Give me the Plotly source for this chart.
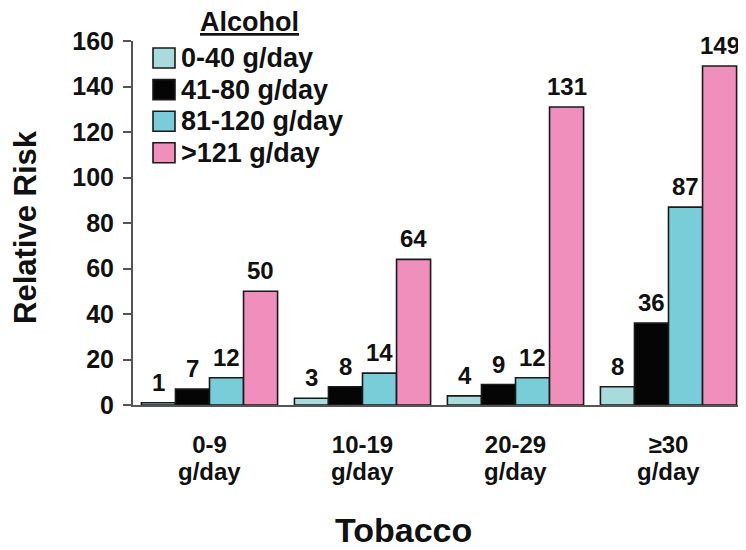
import plotly.graph_objects as go

categories = ["0-9", "10-19", "20-29", "≥30"]
unit_line = "g/day"
series_names = ["0-40 g/day", "41-80 g/day", "81-120 g/day", ">121 g/day"]
series_values = [
    [1, 3, 4, 8],
    [7, 8, 9, 36],
    [12, 14, 12, 87],
    [50, 64, 131, 149],
]
colors = ["#a8dcdc", "#050505", "#79cdd8", "#f08fbb"]
y_ticks = [0, 20, 40, 60, 80, 100, 120, 140, 160]

FONT = "Liberation Sans, Arial, sans-serif"
OFF = 8  # page body margin
W, H = 746 - OFF, 550 - OFF
L, R, T, B = 133 - OFF, 1, 41 - OFF, 145
PW, PH = W - L - R, H - T - B


def px_x(p):
    return (p - OFF - L) / PW


def px_y(p):
    return (H - B - (p - OFF)) / PH


fig = go.Figure()
for name, vals, col in zip(series_names, series_values, colors):
    fig.add_trace(go.Bar(
        x=categories, y=vals, name=name, marker_color=col,
        marker_line=dict(color="#1a1a1a", width=1.6), showlegend=False,
    ))

annotations = []
bar_px = 34
n = len(series_names)
for i, vals in enumerate(series_values):
    for c, v in zip(categories, vals):
        annotations.append(dict(
            x=c, y=v, xref="x", yref="y", text=str(v), showarrow=False,
            xshift=(i - (n - 1) / 2) * bar_px, yanchor="bottom", yshift=5,
            font=dict(family=FONT, size=24, color="#111111", weight="bold"),
        ))

# second line of category labels
for c in categories:
    annotations.append(dict(
        x=c, y=0, xref="x", yref="paper", text=unit_line, showarrow=False,
        yanchor="top", yshift=-51,
        font=dict(family=FONT, size=24, color="#111111", weight="bold"),
    ))

# axis titles
annotations.append(dict(
    x=px_x(403), y=px_y(530), xref="paper", yref="paper", text="Tobacco",
    showarrow=False, yanchor="middle", xanchor="center",
    font=dict(family=FONT, size=34, color="#111111", weight="bold"),
))
annotations.append(dict(
    x=px_x(25), y=px_y(227), xref="paper", yref="paper", text="Relative Risk",
    showarrow=False, textangle=-90, yanchor="middle", xanchor="center",
    font=dict(family=FONT, size=31, color="#111111", weight="bold"),
))

# legend
annotations.append(dict(
    x=px_x(249), y=px_y(22), xref="paper", yref="paper", text="<u>Alcohol</u>",
    showarrow=False, xanchor="center", yanchor="middle",
    font=dict(family=FONT, size=27, color="#111111", weight="bold"),
))
shapes = []
for k, (name, col) in enumerate(zip(series_names, colors)):
    yc = 58 + 31.6 * k
    shapes.append(dict(
        type="rect", xref="paper", yref="paper",
        x0=px_x(153), x1=px_x(175), y0=px_y(yc + 10), y1=px_y(yc - 10),
        fillcolor=col, line=dict(color="#1a1a1a", width=1.6),
    ))
    annotations.append(dict(
        x=px_x(179), y=px_y(yc), xref="paper", yref="paper", text=name,
        showarrow=False, xanchor="left", yanchor="middle",
        font=dict(family=FONT, size=27, color="#111111", weight="bold"),
    ))

fig.update_layout(
    width=W, height=H,
    margin=dict(l=L, r=R, t=T, b=B, pad=0),
    plot_bgcolor="white", paper_bgcolor="white",
    barmode="group", bargap=0.11, bargroupgap=0,
    annotations=annotations, shapes=shapes,
    xaxis=dict(
        range=[-0.5, 3.5], showline=True, linecolor="#555555", linewidth=2,
        ticks="", showgrid=False, zeroline=False,
        tickfont=dict(family=FONT, size=24, color="#111111", weight="bold"),
        ticklabelstandoff=17,
    ),
    yaxis=dict(
        range=[0, 160], tickvals=y_ticks, showline=True, linecolor="#555555",
        linewidth=2, ticks="outside", ticklen=8, tickwidth=2, tickcolor="#555555",
        showgrid=False, zeroline=False, ticklabelstandoff=4,
        tickfont=dict(family=FONT, size=25, color="#111111", weight="bold"),
    ),
)

fig.write_html("out.html")
